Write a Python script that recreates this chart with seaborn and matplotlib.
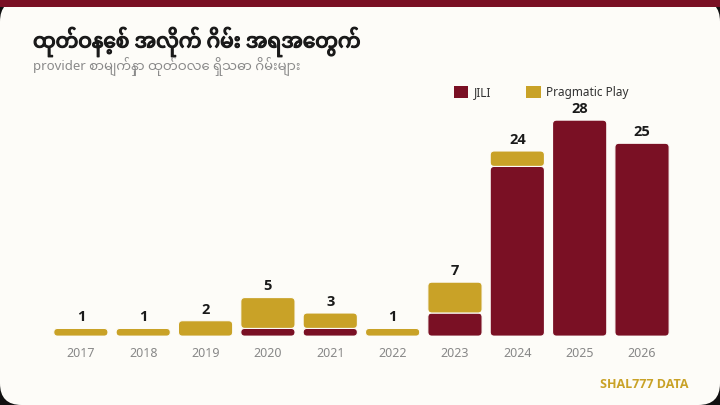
import matplotlib
matplotlib.use("Agg")
import matplotlib.pyplot as plt
import matplotlib.patheffects as pe
import seaborn as sns
import pandas as pd
import numpy as np
from matplotlib.patches import FancyBboxPatch, Rectangle, Patch
from matplotlib import font_manager

years = ["2017", "2018", "2019", "2020", "2021", "2022", "2023", "2024", "2025", "2026"]
jili = [0, 0, 0, 1, 1, 0, 3, 22, 28, 25]
pragmatic = [1, 1, 2, 4, 2, 1, 4, 2, 0, 0]
series_names = ["JILI", "Pragmatic Play"]
title = "ထုတ်ဝနေ့စ် အလိုက် ဂိမ်း အရအေတွက်"
subtitle = "provider စာမျက်နှာ ထုတ်ဝလေ ရှိသဓာ ဂိမ်းများ"
brand = "SHAL777 DATA"

RED = "#7a1024"
GOLD = "#c9a227"
BG = "#fdfcf8"

sns.set_theme(style="white")
avail = {f.name for f in font_manager.fontManager.ttflist}
mm = [f for f in ["Noto Sans Myanmar", "Padauk", "Myanmar Text", "Myanmar Sans Pro", "Noto Serif Myanmar"] if f in avail]
fam = mm + ["Noto Sans", "DejaVu Sans"]
latin = ["Noto Sans", "DejaVu Sans"]
boldfam = ["Open Sans", "DejaVu Sans"]
plt.rcParams["font.family"] = fam

df = pd.DataFrame({"year": years, "JILI": jili, "Pragmatic Play": pragmatic})
df["total"] = df["JILI"] + df["Pragmatic Play"]

fig = plt.figure(figsize=(7.2, 4.05), dpi=100)
fig.patch.set_facecolor("#111111")
card = FancyBboxPatch((0, 0), 1, 1, boxstyle="round,pad=0,rounding_size=0.03",
                      transform=fig.transFigure, facecolor=BG, edgecolor="none",
                      mutation_aspect=720/405, zorder=-5)
fig.patches.append(card)
fig.patches.append(Rectangle((0, 1 - 7/405), 1, 7/405, transform=fig.transFigure,
                             facecolor=RED, edgecolor="none", zorder=-4))

ax = fig.add_axes([0.069, 0.170, 0.866, 0.5715])
ax.set_facecolor("none")
ax.set_zorder(2)

sns.barplot(data=df, x="year", y="JILI", color=RED, width=0.87, ax=ax,
            saturation=1)
sns.barplot(data=df, x="year", y="Pragmatic Play", color=GOLD, width=0.87, ax=ax,
            saturation=1, bottom=df["JILI"].values)
if ax.get_legend() is not None:
    ax.get_legend().remove()

ax.set_ylim(0, 30)
ax.set_xlim(-0.5, len(years) - 0.5)

# value labels on top of stacked bars
top = ax.containers[1]
ax.bar_label(top, labels=[str(v) for v in df["total"]], padding=3,
             fontsize=10.5, fontweight="bold", color="#1a1a1a", family=boldfam)

# round the bar corners
fig.canvas.draw()
ypx = ax.get_window_extent().height / 30
xpx = ax.get_window_extent().width / len(years)
r = 4 / xpx
aspect = (4 / ypx) / r
for p in list(ax.patches):
    if not isinstance(p, Rectangle) or isinstance(p, FancyBboxPatch):
        continue
    x, y, w, h = p.get_x(), p.get_y(), p.get_width(), p.get_height()
    p.set_visible(False)
    if h <= 0:
        continue
    rr = min(r, h / aspect / 2)
    fb = FancyBboxPatch((x, y), w, h, boxstyle=f"round,pad=0,rounding_size={rr}",
                        mutation_aspect=aspect, facecolor=p.get_facecolor(),
                        edgecolor=BG, linewidth=0.8, zorder=2)
    ax.add_patch(fb)

for s in ax.spines.values():
    s.set_visible(False)
ax.set_yticks([])
ax.set_xlabel("")
ax.set_ylabel("")
ax.tick_params(axis="x", length=0, pad=8, labelsize=9, labelcolor="#888888")
for t in ax.get_xticklabels():
    t.set_family(latin)

handles = [Patch(facecolor=RED, edgecolor="none"), Patch(facecolor=GOLD, edgecolor="none")]
leg = fig.legend(handles, series_names, loc="upper left", bbox_to_anchor=(0.616, 0.815),
                 ncol=2, frameon=False, handlelength=1.2, handleheight=1.2,
                 columnspacing=3.0, handletextpad=0.45,
                 prop={"family": latin, "size": 8.5})
for t in leg.get_texts():
    t.set_color("#333333")

fig.text(33/720, 1 - 42/405, title, fontsize=14.5, fontweight="bold", color="#1a1a1a",
         va="center", ha="left", family=fam,
         path_effects=[pe.withStroke(linewidth=0.9, foreground="#1a1a1a")])
fig.text(33/720, 1 - 66/405, subtitle, fontsize=9.5, color="#8a8a8a",
         va="center", ha="left", family=fam)
fig.text(689/720, 1 - 385/405, brand, fontsize=9, fontweight="bold", color=GOLD,
         va="center", ha="right", family=boldfam)

fig.savefig("out.png", dpi=100, facecolor=fig.get_facecolor())
